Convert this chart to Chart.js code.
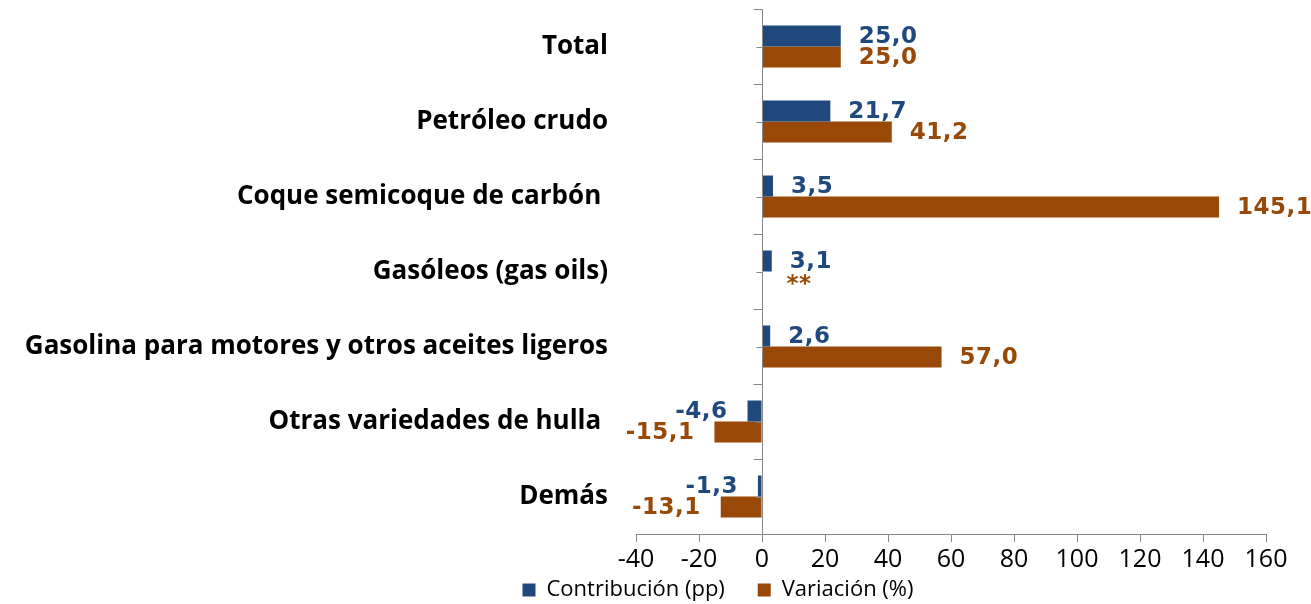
<!DOCTYPE html>
<html>
<head>
<meta charset="utf-8">
<script src="https://cdn.jsdelivr.net/npm/chart.js@4"></script>
<style>
  html, body { margin: 0; padding: 0; background: #fff; }
  #wrap { width: 1311px; height: 604px; position: relative; }
</style>
</head>
<body>
<div id="wrap"><canvas id="chart"></canvas></div>
<script>
// datos del gráfico
const categories = [
    'Total',
    'Petróleo crudo',
    'Coque semicoque de carbón ',
    'Gasóleos (gas oils)',
    'Gasolina para motores y otros aceites ligeros',
    'Otras variedades de hulla ',
    'Demás'
];
const contribucion = [25.0, 21.7, 3.5, 3.1, 2.6, -4.6, -1.3];
const variacion = [25.0, 41.2, 145.1, null, 57.0, -15.1, -13.1];
const seriesNames = ['Contribución (pp)', 'Variación (%)'];
const xMin = -40, xMax = 160, xStep = 20;

const BLUE = '#1F497D';
const ORANGE = '#984807';
const AXIS = '#868686';

const fmt = v => v.toFixed(1).replace('.', ',');

// eje vertical en cero + etiquetas de datos
const labelPlugin = {
    id: 'labelPlugin',
    afterLayout(chart) {
        // la leyenda del original no está centrada en el lienzo
        chart.legend.left += 85;
        chart.legend.right += 85;
    },
    afterDatasetsDraw(chart) {
        const ctx = chart.ctx;
        const xs = chart.scales.x, ys = chart.scales.y;
        const area = chart.chartArea;
        const x0 = Math.round(xs.getPixelForValue(0)) + 0.5;

        ctx.save();
        ctx.strokeStyle = AXIS;
        ctx.lineWidth = 1;
        ctx.beginPath();
        ctx.moveTo(x0, area.top);
        ctx.lineTo(x0, area.bottom);
        const step = (area.bottom - area.top) / categories.length;
        for (let i = 0; i <= categories.length; i++) {
            const y = Math.round(area.top + i * step) + 0.5;
            ctx.moveTo(x0 - 9, y);
            ctx.lineTo(x0, y);
        }
        categories.forEach((c, i) => {
            const y = Math.round(ys.getPixelForValue(i)) + 0.5;
            ctx.moveTo(x0 - 6, y);
            ctx.lineTo(x0, y);
        });
        ctx.stroke();

        ctx.font = 'bold 23px "DejaVu Sans"';
        ctx.letterSpacing = '0.5px';
        ctx.textBaseline = 'middle';
        const m0 = chart.getDatasetMeta(0), m1 = chart.getDatasetMeta(1);
        [contribucion, variacion].forEach((arr, d) => {
            ctx.fillStyle = d === 0 ? BLUE : ORANGE;
            arr.forEach((v, i) => {
                const e0 = m0.data[i];
                const yc = d === 0 ? e0.y + 1 : e0.y + e0.height + 1;
                if (v === null) {
                    ctx.textAlign = 'left';
                    ctx.fillText('**', x0 + 24, yc + 2);
                    return;
                }
                const el = (d === 0 ? m0 : m1).data[i];
                if (v >= 0) {
                    ctx.textAlign = 'left';
                    ctx.fillText(fmt(v), el.x + 18, yc);
                } else {
                    ctx.textAlign = 'right';
                    ctx.fillText(fmt(v), el.x - 20, yc);
                }
            });
        });
        ctx.restore();
    }
};

new Chart(document.getElementById('chart'), {
    type: 'bar',
    data: {
        labels: categories,
        datasets: [
            { label: seriesNames[0], data: contribucion, backgroundColor: BLUE,
              barPercentage: 1, categoryPercentage: 0.56 },
            { label: seriesNames[1], data: variacion, backgroundColor: ORANGE,
              barPercentage: 1, categoryPercentage: 0.56 }
        ]
    },
    options: {
        indexAxis: 'y',
        responsive: true,
        maintainAspectRatio: false,
        animation: false,
        layout: { padding: { top: 9, right: 45, left: 0, bottom: -7 } },
        scales: {
            x: {
                min: xMin, max: xMax,
                ticks: { stepSize: xStep, color: '#000', padding: 3,
                         font: { family: '"Open Sans"', size: 25 } },
                grid: { drawOnChartArea: false, drawTicks: true, tickLength: 8, color: AXIS },
                border: { display: true, color: AXIS },
                afterFit: s => { s.height = 35; }
            },
            y: {
                ticks: { color: '#000', padding: 28,
                         font: { family: '"Open Sans"', size: 26, weight: 'bold' } },
                grid: { display: false, drawTicks: false },
                border: { display: false },
                afterFit: s => { s.width = 636; s.paddingTop = 0; s.paddingBottom = 0; }
            }
        },
        plugins: {
            legend: {
                position: 'bottom',
                labels: {
                    boxWidth: 13, boxHeight: 13, padding: 10, color: '#000',
                    font: { family: '"Open Sans"', size: 22 },
                    generateLabels: chart => Chart.defaults.plugins.legend.labels.generateLabels(chart)
                        .map((l, i) => i === 0 ? { ...l, text: l.text + '    ' } : l)
                }
            },
            tooltip: { enabled: false }
        }
    },
    plugins: [labelPlugin]
});
</script>
</body>
</html>
